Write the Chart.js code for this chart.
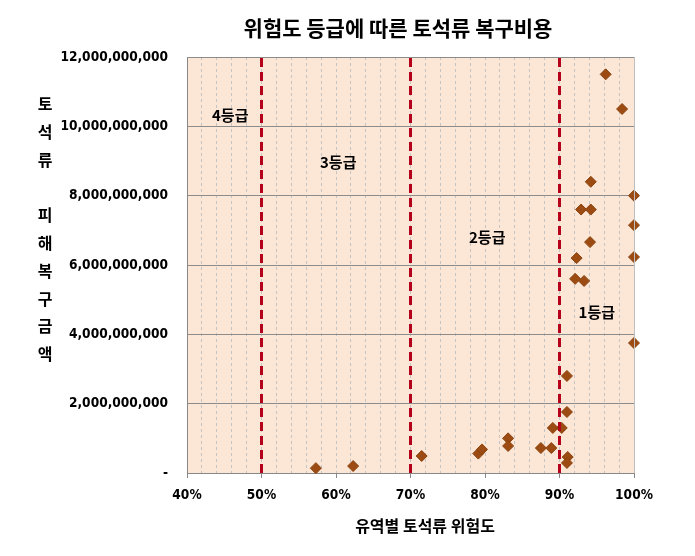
<!DOCTYPE html>
<html>
<head>
<meta charset="utf-8">
<script src="https://cdn.jsdelivr.net/npm/chart.js@4"></script>
<style>
  body { margin: 0; background: #fff; }
  #wrap { width: 695px; height: 556px; position: relative; }
</style>
</head>
<body>
<div id="wrap"><canvas id="riskChart"></canvas></div>
<script>
// watershed risk (%) and restoration cost (won)
const riskPct = [57.3, 62.3, 71.5, 79.1, 79.6, 83.1, 83.1, 87.5, 88.9, 89.1, 90.3, 91.0, 91.0, 91.1, 91.0,
                 92.1, 93.3, 92.3, 94.1, 92.9, 94.2, 94.2, 96.2, 98.4, 100, 100, 100, 100];
const cost = [140000000, 200000000, 490000000, 560000000, 680000000, 1000000000, 780000000, 720000000,
              720000000, 1300000000, 1300000000, 2800000000, 1760000000, 460000000, 290000000,
              5600000000, 5540000000, 6200000000, 6660000000, 7600000000, 7600000000, 8400000000,
              11500000000, 10500000000, 8000000000, 7150000000, 6230000000, 3750000000];

const gradeLines = [50, 70, 90];
const gradeNames = ['4등급', '3등급', '2등급', '1등급'];
const gradeTextX = [45.8, 60.3, 80.3, 95.0];
const gradeTextY = [10330000000, 8970000000, 6800000000, 4640000000];

const yAxisChars = ['토', '석', '류', '', '피', '해', '복', '구', '금', '액'];

const KR = "'Noto Sans CJK KR', 'Noto Sans', sans-serif";
const NUM = "'DejaVu Sans Condensed', 'DejaVu Sans', sans-serif";

function fmt(v) {
    if (v === 0) return '-';
    return v.toString().replace(/\B(?=(\d{3})+(?!\d))/g, ',');
}

const points = riskPct.map((x, i) => ({ x: x, y: cost[i] }));

let sets = [];
gradeLines.forEach(g => {
    sets.push({
        type: 'line',
        data: [{ x: g, y: 0 }, { x: g, y: 12000000000 }],
        borderColor: '#B5001C',
        borderWidth: 3,
        borderDash: [9, 5],
        pointRadius: 0,
        fill: false
    });
});
sets.push({
    type: 'scatter',
    data: points,
    pointStyle: 'rectRot',
    pointRadius: 5.5,
    backgroundColor: '#9C4C12',
    borderColor: '#8A420E',
    borderWidth: 1,
    clip: false
});

const paint = {
    id: 'paint',
    beforeDraw: (chart) => {
        const ctx = chart.ctx;
        const a = chart.chartArea;
        ctx.save();
        ctx.fillStyle = '#FCE6D6';
        ctx.fillRect(a.left, a.top, a.right - a.left, a.bottom - a.top);
        ctx.restore();
    },
    afterDraw: (chart) => {
        const ctx = chart.ctx;
        const xs = chart.scales.x;
        const ys = chart.scales.y;
        const a = chart.chartArea;
        ctx.save();
        // solid right edge of plot
        ctx.strokeStyle = '#BFBFBF';
        ctx.lineWidth = 1;
        ctx.beginPath();
        ctx.moveTo(a.right + 0.5, a.top);
        ctx.lineTo(a.right + 0.5, a.bottom);
        ctx.stroke();

        ctx.fillStyle = '#000';
        ctx.textAlign = 'center';
        ctx.textBaseline = 'middle';

        ctx.font = 'bold 21px ' + KR;
        ctx.fillText('위험도 등급에 따른 토석류 복구비용', 398, 28);

        ctx.font = 'bold 16px ' + KR;
        ctx.fillText('유역별 토석류 위험도', 425, 526);

        ctx.font = 'bold 16px ' + KR;
        yAxisChars.forEach((c, i) => {
            ctx.fillText(c, 45, 104 + i * 27.8);
        });

        ctx.font = 'bold 15px ' + KR;
        gradeNames.forEach((n, i) => {
            ctx.fillText(n, xs.getPixelForValue(gradeTextX[i]), ys.getPixelForValue(gradeTextY[i]));
        });
        ctx.restore();
    }
};

new Chart(document.getElementById('riskChart'), {
    data: { datasets: sets },
    options: {
        responsive: true,
        maintainAspectRatio: false,
        animation: false,
        layout: { padding: { top: 57, right: 61, bottom: 43, left: 0 } },
        plugins: { legend: { display: false }, tooltip: { enabled: false } },
        scales: {
            x: {
                type: 'linear',
                min: 40,
                max: 100,
                afterFit: (s) => { s.height = 40; },
                ticks: {
                    stepSize: 2,
                    autoSkip: false,
                    maxRotation: 0,
                    padding: 9,
                    color: '#000',
                    font: { family: NUM, size: 13.6, weight: 'bold' },
                    callback: (v) => (v % 10 === 0 ? v + '%' : '')
                },
                grid: {
                    color: (c) => (c.tick && (c.tick.value === 40 || c.tick.value === 100) ? 'transparent' : '#C4C4C4'),
                    lineWidth: 1,
                    tickLength: 5,
                    tickBorderDash: [],
                    tickColor: (c) => (c.tick && c.tick.value % 10 === 0 ? '#888' : 'transparent')
                },
                border: { color: '#888', dash: [3, 3] }
            },
            y: {
                type: 'linear',
                min: 0,
                max: 12000000000,
                afterFit: (s) => { s.width = 187; },
                ticks: {
                    stepSize: 2000000000,
                    padding: 19,
                    color: '#000',
                    font: { family: NUM, size: 13.6, weight: 'bold' },
                    callback: (v) => fmt(v)
                },
                grid: { color: '#8C8C8C', lineWidth: 1, drawTicks: false },
                border: { color: '#888' }
            }
        }
    },
    plugins: [paint]
});
</script>
</body>
</html>
